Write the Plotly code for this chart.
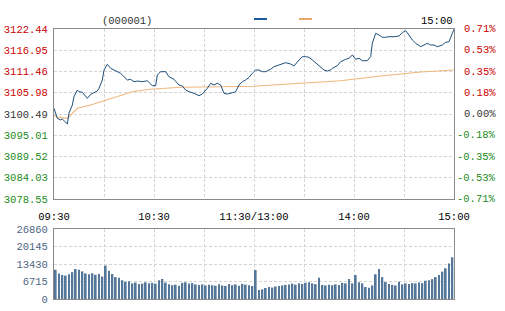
import plotly.graph_objects as go

# ---------------- data ----------------
price_times = [
    "09:30","09:32","09:34","09:35","09:38","09:39","09:41","09:42","09:44","09:45",
    "09:47","09:48","09:50","09:52","09:54","09:56","09:57","09:59","10:00","10:02",
    "10:04","10:07","10:10","10:12","10:14","10:16","10:18","10:20","10:23","10:26",
    "10:29","10:31","10:32","10:34","10:37","10:39","10:42","10:45","10:47","10:49",
    "10:51","10:54","10:57","10:59","11:02","11:04","11:06","11:08","11:10","11:12",
    "11:14","11:17","11:19","11:21","11:23","11:25","11:27","11:29","13:01","13:03",
    "13:05","13:07","13:10","13:12","13:15","13:17","13:19","13:22","13:24","13:27",
    "13:29","13:31","13:33","13:35","13:37","13:39","13:42","13:44","13:46","13:47",
    "13:50","13:52","13:55","13:57","13:59","14:01","14:03","14:05","14:08","14:10",
    "14:11","14:13","14:15","14:17","14:19","14:21","14:24","14:27","14:29","14:31",
    "14:33","14:35","14:37","14:40","14:42","14:44","14:46","14:48","14:50","14:53",
    "14:55","14:57","14:59","15:00",
]
price_values = [
    3101.97, 3099.38, 3098.95, 3099.20, 3097.91, 3100.75, 3102.82, 3104.96, 3106.69, 3106.25,
    3106.10, 3105.58, 3104.55, 3105.58, 3106.10, 3106.43, 3107.13, 3109.27, 3111.85, 3113.33,
    3112.29, 3111.60, 3111.00, 3110.12, 3109.27, 3109.45, 3108.83, 3109.01, 3108.83, 3109.09,
    3107.80, 3107.80, 3110.56, 3111.42, 3111.42, 3110.12, 3109.45, 3107.98, 3107.72, 3106.69,
    3106.25, 3105.84, 3105.22, 3105.66, 3107.13, 3108.42, 3107.98, 3108.42, 3107.98, 3105.84,
    3105.66, 3105.99, 3106.25, 3107.98, 3108.83, 3109.27, 3109.97, 3111.00, 3111.85, 3111.85,
    3111.42, 3111.42, 3112.04, 3112.71, 3113.15, 3113.58, 3113.74, 3113.40, 3112.89, 3114.44,
    3115.29, 3115.29, 3115.13, 3114.44, 3113.58, 3112.96, 3111.85, 3111.60, 3111.85, 3112.29,
    3112.96, 3114.00, 3114.62, 3114.88, 3115.73, 3114.62, 3114.88, 3114.26, 3114.26, 3115.29,
    3118.75, 3121.33, 3120.89, 3120.30, 3120.30, 3120.45, 3120.45, 3120.63, 3121.48, 3122.00,
    3120.89, 3119.60, 3118.75, 3117.87, 3118.31, 3118.75, 3118.31, 3118.31, 3117.87, 3118.31,
    3119.01, 3119.16, 3121.33, 3122.36,
]

avg_times = ["09:30","09:32","09:38","09:41","09:44","09:52","09:58","10:08","10:17","10:28",
             "10:46","11:10","11:30","13:28","13:52","14:16","14:40","15:00"]
avg_values = [3100.24, 3099.72, 3099.38, 3100.75, 3101.97, 3102.82, 3103.67, 3104.96, 3106.25, 3106.87,
              3107.39, 3107.54, 3107.65, 3108.42, 3109.09, 3110.31, 3111.34, 3111.85]

# volume, one bar per two minutes (120 bars)
vol_values = [
    11200, 9800, 9200, 9000, 9500, 10300, 11500, 11200, 10600, 9800,
    9500, 9900, 9300, 9600, 8600, 12800, 10800, 9600, 8400, 8200,
    7200, 6600, 6800, 6000, 6300, 5800, 5900, 6400, 6000, 6200,
    5900, 7200, 7700, 6300, 5700, 5300, 5500, 5100, 6200, 6400,
    5900, 6100, 5600, 5400, 5600, 5200, 5500, 5300, 5100, 5700,
    5200, 5000, 5800, 5300, 5600, 5100, 5800, 5500, 5300, 5000,
    11100, 3500, 3700, 4200, 4600, 4400, 4800, 5000, 5200, 5400,
    5600, 5900, 5500, 6000, 5800, 6200, 6400, 6000, 5700, 8200,
    5400, 5200, 5500, 5300, 5600, 5400, 6200, 6000, 7700, 6000,
    9200, 6400, 6000, 4600, 4300, 5200, 9500, 11500, 8400, 6500,
    5800, 5400, 5200, 6600, 5600, 6000, 5800, 6100, 6000, 6300,
    6100, 7000, 7200, 7600, 8400, 9200, 10500, 11800, 13600, 16000,
]

price_ticks = [3078.55, 3084.03, 3089.52, 3095.01, 3100.49, 3105.98, 3111.46, 3116.95, 3122.44]
pct_labels = ["-0.71%", "-0.53%", "-0.35%", "-0.18%", "0.00%", "0.18%", "0.35%", "0.53%", "0.71%"]
vol_ticks = [0, 6715, 13430, 20145, 26860]
time_labels = ["09:30", "10:30", "11:30/13:00", "14:00", "15:00"]
prev_close = 3100.49
title_text = "(000001)"

# ---------------- helpers ----------------
def session_minute(t):
    h, m = map(int, t.split(":"))
    mins = h * 60 + m
    if mins <= 11 * 60 + 30:
        return mins - (9 * 60 + 30)
    return mins - 13 * 60 + 120

RED, GREEN, GREY = "#cc0000", "#228b22", "#333333"
def level_color(v):
    if abs(v - prev_close) < 0.01:
        return GREY
    return RED if v > prev_close else GREEN

W, H = 505, 311
FONT = "Liberation Mono"
FS = 10.5
px_x = lambda p: p / W
px_y = lambda p: 1 - p / H

grid_vals = list(range(0, 241, 30))
grid_text = [time_labels[i // 2] if i % 2 == 0 else "" for i in range(len(grid_vals))]

fig = go.Figure()
fig.add_trace(go.Scatter(x=[session_minute(t) for t in avg_times], y=avg_values,
                         mode="lines", line=dict(color="#f0b67c", width=1.1),
                         xaxis="x", yaxis="y", hoverinfo="skip"))
fig.add_trace(go.Scatter(x=[session_minute(t) for t in price_times], y=price_values,
                         mode="lines", line=dict(color="#1d4f7e", width=1),
                         xaxis="x", yaxis="y", hoverinfo="skip"))
fig.add_trace(go.Bar(x=[2 * i + 1 for i in range(len(vol_values))], y=vol_values,
                     width=1.15, marker=dict(color="#55789a", line=dict(width=0)),
                     xaxis="x2", yaxis="y2", hoverinfo="skip"))

axis_common = dict(showgrid=True, gridcolor="#d4d4d4", griddash="3px,2px", gridwidth=1,
                   showline=True, mirror=True, linecolor="#8a8a8a", linewidth=1,
                   zeroline=False, ticks="", fixedrange=True, automargin=False)

fig.update_layout(
    width=W, height=H, margin=dict(l=0, r=0, t=0, b=0, autoexpand=False),
    paper_bgcolor="white", plot_bgcolor="white", showlegend=False,
    font=dict(family=FONT, size=FS, color="#000"),
    xaxis=dict(domain=[px_x(54), px_x(454)], range=[0, 240], anchor="y",
               tickvals=grid_vals, ticktext=grid_text, ticklabelstandoff=7,
               tickfont=dict(color="#000", size=FS), **axis_common),
    yaxis=dict(domain=[px_y(199), px_y(29)], range=[price_ticks[0], price_ticks[-1]], anchor="x",
               tickvals=price_ticks,
               ticktext=[f'<span style="color:{level_color(v)}">{v:.2f}</span>' for v in price_ticks],
               ticklabelstandoff=3, tickfont=dict(size=FS), **axis_common),
    xaxis2=dict(domain=[px_x(54), px_x(454)], range=[0, 240], anchor="y2",
                tickvals=grid_vals, showticklabels=False, **axis_common),
    yaxis2=dict(domain=[px_y(299), px_y(229)], range=[vol_ticks[0], vol_ticks[-1]], anchor="x2",
                tickvals=vol_ticks, ticktext=[str(v) for v in vol_ticks],
                ticklabelstandoff=3, tickfont=dict(size=FS, color="#4f6582"), **axis_common),
)

annotations = []
for v, lab in zip(price_ticks, pct_labels):
    annotations.append(dict(x=px_x(498), xref="paper", y=v, yref="y", text=lab,
                            showarrow=False, xanchor="right", yanchor="middle",
                            font=dict(family=FONT, size=FS, color=level_color(v))))
annotations.append(dict(x=px_x(127), xref="paper", y=px_y(21), yref="paper", text=title_text,
                        showarrow=False, xanchor="center", yanchor="middle",
                        font=dict(family=FONT, size=FS, color="#333")))
annotations.append(dict(x=px_x(455), xref="paper", y=px_y(21), yref="paper", text=time_labels[-1],
                        showarrow=False, xanchor="right", yanchor="middle",
                        font=dict(family=FONT, size=FS, color="#000")))
fig.update_layout(annotations=annotations)

shapes = [
    dict(type="line", xref="paper", yref="paper", x0=px_x(254), x1=px_x(267), y0=px_y(19), y1=px_y(19),
         line=dict(color="#1a5a9a", width=2)),
    dict(type="line", xref="paper", yref="paper", x0=px_x(299), x1=px_x(312), y0=px_y(19), y1=px_y(19),
         line=dict(color="#eaa86a", width=2)),
]
fig.update_layout(shapes=shapes)

fig.write_html("out.html")
